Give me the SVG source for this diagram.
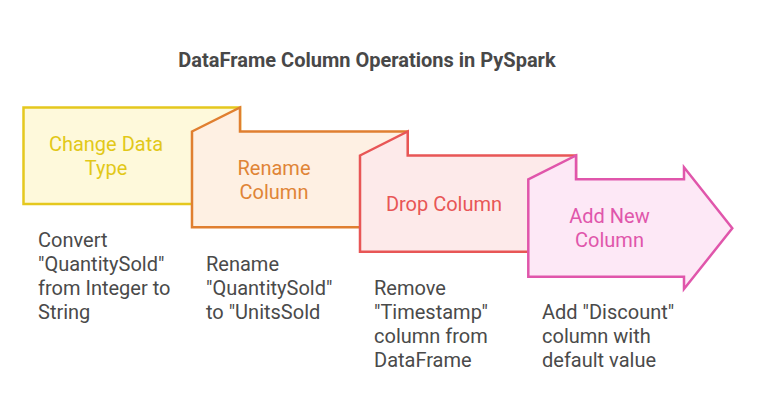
<svg xmlns="http://www.w3.org/2000/svg" width="757" height="420" viewBox="0 0 757 420">
<style>
text{font-family:Roboto,"Liberation Sans",sans-serif;}
.t{font-size:20px;font-weight:bold;fill:#484848;text-anchor:middle;}
.l{font-size:20px;text-anchor:middle;}
.d{font-size:20px;fill:#4a4a4a;}
.s{stroke-width:2.5;stroke-linejoin:miter;}
</style>
<rect width="757" height="420" fill="#ffffff"/>
<text class="t" x="367" y="66.5">DataFrame Column Operations in PySpark</text>
<g id="node1">
<rect class="s" x="23.5" y="107.5" width="216.5" height="96.5" fill="#fef9db" stroke="#e5c81e"/>
<text class="l" fill="#e2c818" x="106" y="151">Change Data</text>
<text class="l" fill="#e2c818" x="106" y="175">Type</text>
</g>
<g id="node2">
<path class="s" d="M192,131.5 L240,107.5 L240,131.5 L407.7,131.5 L407.7,227.3 L192,227.3 Z" fill="#fef0e3" stroke="#e07f30"/>
<text class="l" fill="#e08436" x="274" y="175">Rename</text>
<text class="l" fill="#e08436" x="274" y="199">Column</text>
</g>
<g id="node3">
<path class="s" d="M360,155.5 L407.7,131.5 L407.7,155.5 L576,155.5 L576,251.7 L360,251.7 Z" fill="#fdeaea" stroke="#e85656"/>
<text class="l" fill="#e85656" x="444" y="211">Drop Column</text>
</g>
<g id="node4">
<path class="s" d="M528.3,179.3 L576,155.5 L576,179.3 L684,179.3 L684,167.3 L732.3,228.3 L684,289 L684,276.7 L528.3,276.7 Z" fill="#fde8f6" stroke="#e056ab"/>
<text class="l" fill="#e056ab" x="609.5" y="223">Add New</text>
<text class="l" fill="#e056ab" x="609.5" y="247">Column</text>
</g>
<g id="descriptions">
<text class="d" x="38" y="247">Convert</text>
<text class="d" x="38" y="271">"QuantitySold"</text>
<text class="d" x="38" y="295">from Integer to</text>
<text class="d" x="38" y="319">String</text>
<text class="d" x="206" y="271">Rename</text>
<text class="d" x="206" y="295">"QuantitySold"</text>
<text class="d" x="206" y="319">to "UnitsSold</text>
<text class="d" x="374" y="295">Remove</text>
<text class="d" x="374" y="319">"Timestamp"</text>
<text class="d" x="374" y="343">column from</text>
<text class="d" x="374" y="367">DataFrame</text>
<text class="d" x="542" y="319">Add "Discount"</text>
<text class="d" x="542" y="343">column with</text>
<text class="d" x="542" y="367">default value</text>
</g>
<g id="connectors"></g>
</svg>
